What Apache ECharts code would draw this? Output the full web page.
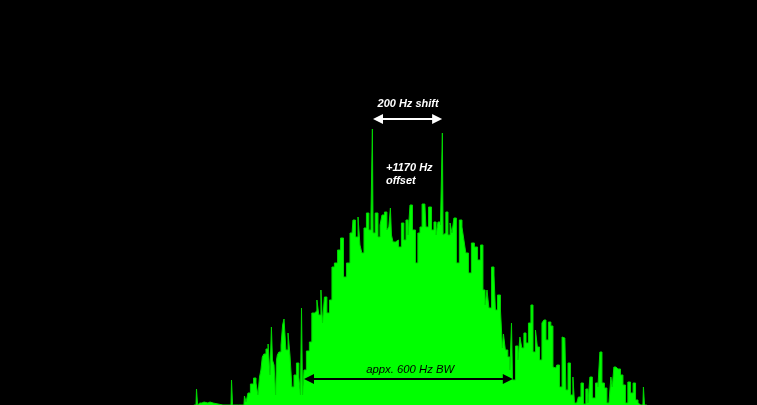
<!DOCTYPE html>
<html>
<head>
<meta charset="utf-8">
<title>Spectrum</title>
<script src="https://cdn.jsdelivr.net/npm/echarts@6/dist/echarts.min.js"></script>
<style>
    html, body { margin: 0; padding: 0; background: #000; }
    #chart { width: 757px; height: 405px; }
</style>
</head>
<body>
<div id="chart"></div>
<script>
// audio frequency of each reading, Hz
const freqs = [
    558, 564, 567, 570, 575, 587, 598, 604, 613, 618, 664, 667, 670, 701, 704, 710, 715, 724, 733, 738,
    744, 747, 752, 755, 761, 767, 773, 778, 781, 784, 790, 793, 795, 798, 804, 810, 813, 818, 824, 830,
    835, 841, 847, 855, 861, 864, 867, 870, 875, 884, 892, 898, 907, 912, 918, 924, 927, 935, 941, 950,
    955, 964, 973, 981, 990, 998, 1010, 1015, 1024, 1030, 1035, 1041, 1047, 1055, 1061, 1067, 1069, 1071, 1081, 1087, 1093,
    1098, 1107, 1112, 1118, 1121, 1124, 1130, 1138, 1147, 1155, 1161, 1167, 1173, 1178, 1187, 1195, 1201, 1207, 1213, 1218, 1224, 1233, 1241, 1247, 1253, 1258,
    1267, 1269, 1271, 1275, 1281, 1287, 1293, 1298, 1304, 1312, 1321, 1327, 1332, 1338, 1347, 1355, 1364, 1373, 1381, 1387, 1393, 1398, 1404,
    1413, 1418, 1421, 1430, 1438, 1441, 1444, 1452, 1458, 1464, 1467, 1470, 1473, 1481, 1487, 1492, 1498, 1504, 1510, 1518,
    1524, 1530, 1538, 1541, 1550, 1555, 1561, 1567, 1575, 1581, 1587, 1592, 1598, 1607, 1613, 1618, 1624, 1630, 1638, 1644,
    1647, 1652, 1661, 1667, 1675, 1681, 1687, 1692, 1701, 1710, 1715, 1721, 1727, 1735, 1741, 1747, 1752, 1755, 1761, 1767,
    1773, 1781, 1787, 1795, 1801, 1810, 1816, 1824, 1830, 1835, 1841, 1844, 1847, 1852
];

// signal level at each frequency
const levels = [
    0, 0, 16, 0, 2, 3, 2, 3, 2, 0, 0, 25, 0, 0, 9, 3, 12, 21, 27, 22,
    10, 28, 35, 48, 51, 56, 61, 30, 78, 45, 40, 10, 45, 50, 53, 60, 80, 86, 55, 72,
    50, 18, 30, 42, 28, 10, 97, 10, 35, 54, 63, 92, 94, 105, 90, 115, 82, 108, 92, 105,
    138, 142, 155, 167, 128, 142, 172, 185, 168, 188, 160, 152, 177, 192, 175, 190, 276, 172, 192, 168, 180,
    190, 193, 175, 178, 197, 170, 163, 165, 158, 182, 165, 185, 170, 200, 175, 142, 172, 178, 201, 201, 178, 198, 175, 183, 170, 183,
    180, 272, 170, 172, 193, 170, 182, 172, 187, 142, 185, 178, 165, 152, 132, 162, 158, 145, 160, 115, 100, 115, 97,
    138, 130, 95, 110, 95, 57, 71, 55, 48, 35, 82, 25, 25, 59, 45, 68, 57, 72, 62, 82,
    100, 53, 75, 58, 45, 82, 85, 65, 83, 79, 38, 37, 40, 18, 68, 67, 15, 42, 10, 28,
    2, 2, 8, 22, 1, 16, 2, 28, 7, 22, 18, 53, 22, 17, 2, 0, 28, 18, 38, 36,
    36, 30, 20, 2, 23, 12, 22, 5, 2, 0, 0, 18, 0, 0
];

// annotation anchors, [Hz, level]
const shiftArrow = [[1084, 286], [1253, 286]];
const bwArrow = [[887, 26], [1455, 26]];
const shiftLabel = [1170, 301];
const offsetLabel = [1107, 231];
const bwLabel = [1176, 35];

const chart = echarts.init(document.getElementById('chart'));

function arrow(ends, color) {
    return [
        { coord: ends[0], lineStyle: { color: color, width: 2, type: 'solid' } },
        { coord: ends[1] }
    ];
}

function note(text, coord, color, align, weight, size) {
    return {
        coord: coord,
        symbolSize: 0,
        label: {
            show: true,
            formatter: text,
            position: 'inside',
            color: color,
            align: align,
            verticalAlign: 'middle',
            fontFamily: '"Liberation Sans", Arial, sans-serif',
            fontStyle: 'italic',
            fontWeight: weight,
            fontSize: size,
            lineHeight: 13
        }
    };
}

chart.setOption({
    backgroundColor: '#000',
    animation: false,
    grid: { left: 0, right: 0, top: 0, bottom: 0 },
    xAxis: { type: 'value', min: 4, max: 2167, show: false },
    yAxis: { type: 'value', min: 0, max: 405, show: false },
    series: [
        {
            type: 'line',
            step: 'middle',
            showSymbol: false,
            data: freqs.map((f, i) => [f, levels[i]]),
            lineStyle: { color: '#00d800', width: 1 },
            areaStyle: { color: '#00ff00', opacity: 1 },
            markLine: {
                silent: true,
                symbol: ['triangle', 'triangle'],
                symbolSize: 10,
                label: { show: false },
                data: [arrow(shiftArrow, '#fff'), arrow(bwArrow, '#000')]
            },
            markPoint: {
                silent: true,
                data: [
                    note('200 Hz shift', shiftLabel, '#fff', 'center', 'bold', 11),
                    note('+1170 Hz\noffset', offsetLabel, '#fff', 'left', 'bold', 11),
                    note('appx. 600 Hz BW', bwLabel, '#000', 'center', 'normal', 11.3)
                ]
            }
        }
    ]
});
</script>
</body>
</html>
